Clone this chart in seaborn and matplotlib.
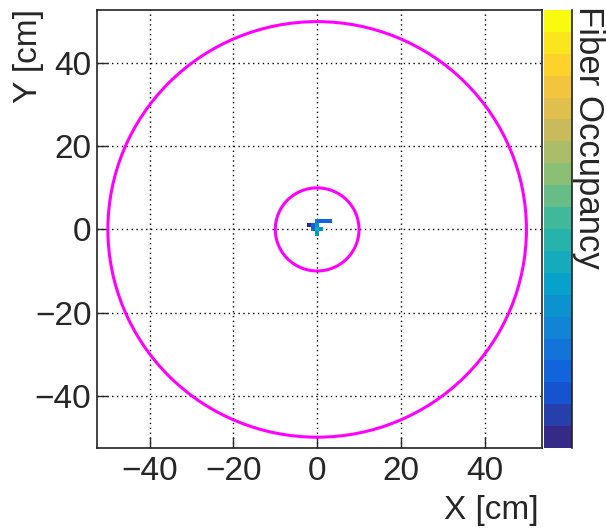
import numpy as np
import matplotlib
matplotlib.use("Agg")
import matplotlib.pyplot as plt
from matplotlib.colors import LinearSegmentedColormap, ListedColormap, LogNorm
from matplotlib.patches import Circle
from matplotlib.ticker import LogLocator, NullFormatter
import seaborn as sns

# ---- data ----
cell_x = [0, 1, 2, 3, 0, 0, 0, 1, -2, -1, -1]
cell_y = [2, 2, 2, 2, 1, 0, -1, 0, 1, 1, 0]
cell_val = [5, 4, 4, 3.5, 12, 20, 9, 10, 1.3, 3, 3.5]
circle_radii = [50.0, 10.0]
x_ticks = [-40, -20, 0, 20, 40]
y_ticks = [-40, -20, 0, 20, 40]
z_min, z_max = 0.95, 1490.0

# ROOT kBird palette
bird_r = [0.2082, 0.0592, 0.0780, 0.0232, 0.1802, 0.5301, 0.8186, 0.9956, 0.9764]
bird_g = [0.1664, 0.3599, 0.5041, 0.6419, 0.7178, 0.7492, 0.7328, 0.7862, 0.9832]
bird_b = [0.5293, 0.8684, 0.8385, 0.7914, 0.6425, 0.4662, 0.3499, 0.1968, 0.0539]

sns.set_style("white")
plt.rcParams["font.family"] = ["Liberation Sans", "DejaVu Sans"]
plt.rcParams["axes.unicode_minus"] = True

bird = LinearSegmentedColormap.from_list(
    "bird", list(zip(np.linspace(0, 1, len(bird_r)), zip(bird_r, bird_g, bird_b))))
cmap = ListedColormap(bird(np.linspace(0, 1, 20)))
norm = LogNorm(vmin=z_min, vmax=z_max)

W, H = 606, 529
FS = 24
fig = plt.figure(figsize=(W / 100, H / 100), dpi=100)
ax = fig.add_axes([97 / W, 1 - 448 / H, (541.5 - 97) / W, (448 - 10) / H])
cax = fig.add_axes([544 / W, 1 - 448 / H, (572 - 544) / W, (448 - 10) / H])

df = {"x": cell_x, "y": cell_y, "w": cell_val}
n_before = len(ax.collections)
sns.histplot(data=df, x="x", y="y", weights="w", binwidth=1.0,
             binrange=((-3.5, 3.5), (-1.5, 2.5)), cmap=cmap,
             ax=ax, zorder=3)
for coll in ax.collections[n_before:]:
    coll.set_norm(norm)

for r in circle_radii:
    ax.add_patch(Circle((0, 0), r, fill=False, edgecolor="#ff00ff", lw=2.2, zorder=4))

ax.set_xlim(-52.6, 53.6)
ax.set_ylim(-52.6, 52.8)
ax.set_xticks(x_ticks)
ax.set_yticks(y_ticks)
ax.set_xticklabels([str(t).replace("-", "\u2212") for t in x_ticks])
ax.set_yticklabels([str(t).replace("-", "\u2212") for t in y_ticks])
ax.tick_params(direction="in", length=8, width=1, labelsize=FS,
               top=False, right=False, bottom=True, left=True)
ax.tick_params(axis="y", pad=4)
ax.tick_params(axis="x", pad=6)
ax.grid(True, color="black", linestyle=(0, (1, 2.5)), lw=1)
ax.set_axisbelow(True)
for s in ax.spines.values():
    s.set_color("#222222")
    s.set_linewidth(1.2)
ax.set_xlabel("")
ax.set_ylabel("")
ax.set_facecolor("white")

fig.text(539 / W, 1 - 510 / H, "X [cm]", ha="right", va="center", fontsize=FS)
fig.text(28 / W, 1 - 9 / H, "Y [cm]", ha="center", va="top", rotation=90, fontsize=FS)

sm = matplotlib.cm.ScalarMappable(norm=norm, cmap=cmap)
cb = fig.colorbar(sm, cax=cax)
cb.outline.set_visible(False)
cax.yaxis.set_ticks_position("right")
cax.yaxis.set_major_locator(LogLocator(base=10))
cax.yaxis.set_minor_locator(LogLocator(base=10, subs=np.arange(2, 10)))
cax.yaxis.set_minor_formatter(NullFormatter())
cax.tick_params(which="major", direction="in", length=16, width=1.2, labelright=False, right=True)
cax.tick_params(which="minor", direction="in", length=8, width=1.2, right=True)
cax.spines["right"].set_visible(True)
cax.spines["right"].set_color("#222222")
cax.spines["right"].set_linewidth(1.2)

fig.text(589 / W, 1 - 6 / H, "Fiber Occupancy", ha="center", va="top", rotation=-90, fontsize=FS + 1)

fig.savefig("out.png", dpi=100, facecolor="white")
